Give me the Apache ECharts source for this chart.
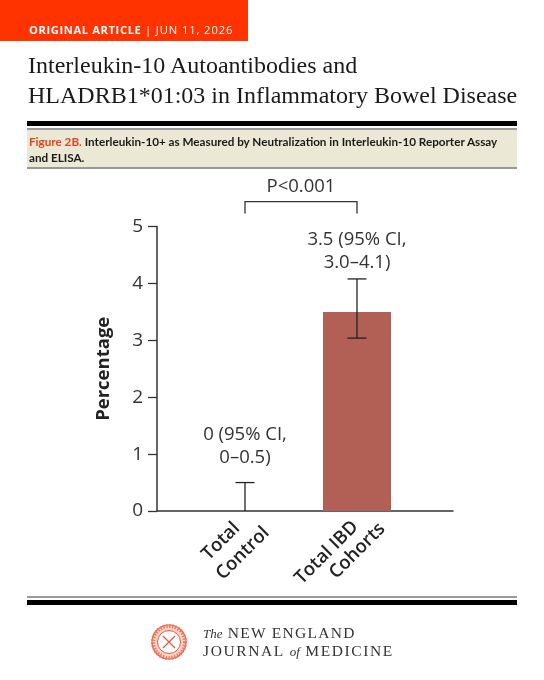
<!DOCTYPE html>
<html>
<head>
<meta charset="utf-8">
<script src="https://cdn.jsdelivr.net/npm/echarts@6/dist/echarts.min.js"></script>
<style>
html,body{margin:0;padding:0;background:#fff;}
#page{position:relative;width:544px;height:680px;overflow:hidden;}
#main{position:absolute;left:0;top:0;width:544px;height:680px;}
.abs{position:absolute;white-space:nowrap;}
.tag{left:0;top:0;width:248px;height:41px;background:#ff3300;}
.tagtext{left:29px;top:23px;color:#fff;font:700 11.2px/14px "Open Sans",sans-serif;letter-spacing:0.6px;}
.tagtext span{font-weight:400;letter-spacing:0.9px;}
.title{left:28px;color:#1a1a1a;font:24px/30px "Liberation Serif",serif;}
.rule{left:27px;width:490px;}
.cap{left:29px;color:#1a1a1a;font:700 11.7px/15px Lato,sans-serif;}
.cap b{color:#e8401c;font-weight:700;}
.brand{left:203px;color:#333;font:15.5px/18px "Liberation Serif",serif;letter-spacing:1.6px;}
.brand i{font-size:13px;letter-spacing:0;}
</style>
</head>
<body>
<div id="page">
<div id="main"></div>
<div class="abs tag"></div>
<div class="abs tagtext">ORIGINAL ARTICLE <span>| JUN 11, 2026</span></div>
<div class="abs title" style="top:50px">Interleukin-10 Autoantibodies and</div>
<div class="abs title" style="top:80px">HLADRB1*01:03 in Inflammatory Bowel Disease</div>
<div class="abs rule" style="top:121px;height:5px;background:#000"></div>
<div class="abs rule" style="top:128px;height:2px;background:#999"></div>
<div class="abs rule" style="top:130px;height:37px;background:#ebe8d5"></div>
<div class="abs rule" style="top:167px;height:2px;background:#999"></div>
<div class="abs cap" style="top:134px"><b>Figure 2B.</b> Interleukin-10+ as Measured by Neutralization in Interleukin-10 Reporter Assay</div>
<div class="abs cap" style="top:150px">and ELISA.</div>
<div class="abs rule" style="top:596px;height:2px;background:#999"></div>
<div class="abs rule" style="top:600px;height:5px;background:#000"></div>
<svg class="abs" style="left:151px;top:624px" width="36" height="36" viewBox="0 0 36 36">
  <circle cx="18" cy="18" r="17" fill="#fbd5ca" stroke="#e8563a" stroke-width="1.2"/>
  <circle cx="18" cy="18" r="16" fill="none" stroke="#ef7a60" stroke-width="4" stroke-dasharray="1.5 1.5"/>
  <circle cx="18" cy="18" r="11.5" fill="#fff" stroke="#e8563a" stroke-width="1"/>
  <path d="M12 12L24 24M24 12L12 24" stroke="#e8563a" stroke-width="1.2"/>
</svg>
<div class="abs brand" style="top:624px;letter-spacing:1.3px"><i>The</i> NEW ENGLAND</div>
<div class="abs brand" style="top:642px">JOURNAL <i>of</i> MEDICINE</div>
</div>
<script>
var categories = ['Total Control', 'Total IBD Cohorts'];
var percent = [0, 3.5];
var ciLow = [0, 3.04];
var ciHigh = [0.5, 4.08];
var ciText = ['0 (95% CI,\n0\u20130.5)', '3.5 (95% CI,\n3.0\u20134.1)'];
var yTicks = [0, 1, 2, 3, 4, 5];
var pText = 'P<0.001';

var chartFont = '"Open Sans", sans-serif';
var inkColor = '#333';

var chartDom = document.getElementById('main');
var myChart = echarts.init(chartDom);

// error bars with caps, and the CI text over them
function renderError(params, api) {
    var i = api.value(0);
    var top = api.coord([i, api.value(2)]);
    var low = api.coord([i, api.value(1)]);
    var capW = 9.5;
    var lineStyle = {stroke: '#222', lineWidth: 1.3, fill: null};
    var children = [
        {type: 'line', shape: {x1: top[0], y1: top[1], x2: low[0], y2: low[1]}, style: lineStyle},
        {type: 'line', shape: {x1: top[0] - capW, y1: top[1], x2: top[0] + capW, y2: top[1]}, style: lineStyle}
    ];
    if (api.value(1) > 0) {
        children.push({type: 'line', shape: {x1: low[0] - capW, y1: low[1], x2: low[0] + capW, y2: low[1]}, style: lineStyle});
    }
    children.push({
        type: 'text',
        style: {
            text: ciText[i], x: top[0], y: top[1] - (i == 0 ? 36 : 28),
            align: 'center', verticalAlign: 'middle',
            font: '18.5px ' + chartFont, lineHeight: 23, fill: inkColor
        }
    });
    return {type: 'group', children: children};
}

// bracket over the two groups, hung above the top of the axis
function renderBracket(params, api) {
    var a = api.coord([0, 5]);
    var b = api.coord([1, 5]);
    var y0 = a[1] - 13;
    var y1 = a[1] - 25;
    return {
        type: 'group',
        children: [
            {type: 'polyline', shape: {points: [[a[0], y0], [a[0], y1], [b[0], y1], [b[0], y0]]},
                style: {stroke: inkColor, lineWidth: 1.3, fill: null}},
            {type: 'text', style: {
                text: pText, x: (a[0] + b[0]) / 2, y: y1 - 15,
                align: 'center', verticalAlign: 'middle',
                font: '18.5px ' + chartFont, fill: inkColor
            }}
        ]
    };
}

var labelBase = {fontFamily: chartFont, fontWeight: 600, fontSize: 18.5, lineHeight: 24, color: '#222'};

var option = {
    animation: false,
    grid: [
        {left: 157, top: 226.6, width: 296, height: 284.4},
        {left: 189, top: 226.6, width: 224, height: 284.4}
    ],
    xAxis: [
        {
            type: 'category', gridIndex: 0, data: [''],
            axisLine: {lineStyle: {color: inkColor, width: 1.5}},
            axisTick: {show: false}, axisLabel: {show: false}
        },
        {
            type: 'category', gridIndex: 1, data: categories,
            axisLine: {show: false}, axisTick: {show: false},
            axisLabel: {
                interval: 0, rotate: 45, margin: 36, align: 'center', verticalAlign: 'middle',
                formatter: function (v, i) {
                    return i == 0 ? '{a|Total}\n{b|Control}' : '{c|Total IBD}\n{d|Cohorts}';
                },
                // per-line padding nudges the hand-placed lines of the original
                rich: {
                    a: Object.assign({padding: [0, 8, 0, 0]}, labelBase),
                    b: Object.assign({padding: [0, 0, 0, 6]}, labelBase),
                    c: Object.assign({padding: [7, 33, 0, 0]}, labelBase),
                    d: Object.assign({padding: [0, 0, 0, 13]}, labelBase)
                },
                padding: [0, 18, 18, 0]
            }
        }
    ],
    yAxis: [
        {
            type: 'value', gridIndex: 0, min: 0, max: 5, interval: 1,
            name: 'Percentage', nameLocation: 'middle', nameGap: 44,
            nameTextStyle: {color: '#222', fontFamily: chartFont, fontWeight: 700, fontSize: 18.5},
            axisLine: {show: true, lineStyle: {color: inkColor, width: 1.5}},
            axisTick: {show: true, length: 9, lineStyle: {color: inkColor, width: 1.3}},
            axisLabel: {
                margin: 14, color: inkColor, fontFamily: chartFont, fontSize: 19,
                formatter: function (v) { return yTicks.indexOf(v) >= 0 ? String(v) : ''; }
            },
            splitLine: {show: false}
        },
        {type: 'value', gridIndex: 1, min: 0, max: 5, interval: 1, show: false}
    ],
    series: [
        {
            type: 'bar', xAxisIndex: 1, yAxisIndex: 1, barWidth: 68, data: percent,
            itemStyle: {color: '#b25f56'}
        },
        {
            type: 'custom', xAxisIndex: 1, yAxisIndex: 1, clip: false, z: 5,
            renderItem: renderError,
            encode: {x: 0, y: [1, 2]},
            data: categories.map(function (c, i) { return [i, ciLow[i], ciHigh[i]]; })
        },
        {
            type: 'custom', xAxisIndex: 1, yAxisIndex: 1, clip: false, z: 5,
            renderItem: renderBracket,
            encode: {x: 0, y: 1},
            data: [[0, 5]]
        }
    ]
};

option && myChart.setOption(option);
</script>
</body>
</html>
